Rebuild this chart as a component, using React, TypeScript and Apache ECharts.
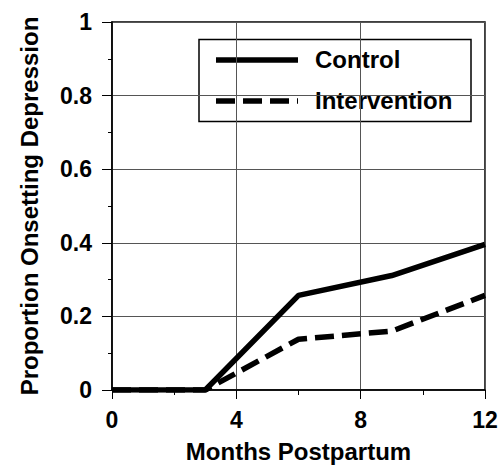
import React, { useEffect, useRef } from "react";
import * as echarts from "echarts";

const months = [0, 3, 6, 9, 12];
const control = [0, 0, 0.257, 0.311, 0.396];
const intervention = [0, 0, 0.138, 0.16, 0.257];
const seriesNames = ["Control", "Intervention"];
const xTitle = "Months Postpartum";
const yTitle = "Proportion Onsetting Depression";

const FONT = "'Liberation Sans', Arial, Helvetica, sans-serif";

export default function App() {
  const ref = useRef<HTMLDivElement>(null);
  useEffect(() => {
    if (!ref.current) return;
    const chart = echarts.init(ref.current, undefined, { renderer: "svg" });
    const pairs = (ys: number[]) => months.map((m, i) => [m, ys[i]]);
    chart.setOption({
      animation: false,
      backgroundColor: "#ffffff",
      grid: {
        left: 112,
        right: 17,
        top: 22,
        bottom: 74,
        show: true,
        borderColor: "#000",
        borderWidth: 1.5,
        backgroundColor: "transparent",
      },
      xAxis: {
        type: "value",
        min: 0,
        max: 12,
        interval: 4,
        name: xTitle,
        nameLocation: "middle",
        nameGap: 49,
        nameTextStyle: { fontFamily: FONT, fontWeight: "bold", fontSize: 24, color: "#000" },
        axisLine: { show: true, lineStyle: { color: "#000", width: 1.5 } },
        axisTick: { show: true, length: 9, lineStyle: { color: "#000", width: 1 } },
        minorTick: { show: true, splitNumber: 2, length: 5, lineStyle: { color: "#000", width: 1 } },
        axisLabel: { fontFamily: FONT, fontWeight: "bold", fontSize: 23, color: "#000", margin: 18 },
        splitLine: { show: true, lineStyle: { color: "#555", width: 1 } },
      },
      yAxis: {
        type: "value",
        min: 0,
        max: 1,
        interval: 0.2,
        name: yTitle,
        nameLocation: "middle",
        nameGap: 71,
        nameTextStyle: { fontFamily: FONT, fontWeight: "bold", fontSize: 24, color: "#000" },
        axisLine: { show: true, lineStyle: { color: "#000", width: 1.5 } },
        axisTick: { show: true, length: 10, lineStyle: { color: "#000", width: 1 } },
        minorTick: { show: true, splitNumber: 2, length: 4, lineStyle: { color: "#000", width: 1 } },
        axisLabel: { fontFamily: FONT, fontWeight: "bold", fontSize: 23, color: "#000", margin: 20 },
        splitLine: { show: true, lineStyle: { color: "#555", width: 1 } },
      },
      series: [
        {
          name: seriesNames[0],
          type: "line",
          data: pairs(control),
          symbol: "none",
          lineStyle: { color: "#000", width: 5.5 },
          z: 3,
        },
        {
          name: seriesNames[1],
          type: "line",
          data: pairs(intervention),
          symbol: "none",
          lineStyle: { color: "#000", width: 5.5, type: [19, 8] },
          z: 3,
        },
      ],
      graphic: [
        {
          type: "group",
          z: 100,
          children: [
            {
              type: "rect",
              shape: { x: 199, y: 39.5, width: 272, height: 82 },
              style: { fill: "#fff", stroke: "#000", lineWidth: 1.5 },
            },
            {
              type: "line",
              shape: { x1: 216, y1: 60, x2: 298, y2: 60 },
              style: { stroke: "#000", lineWidth: 5.5 },
            },
            {
              type: "line",
              shape: { x1: 216, y1: 101, x2: 298, y2: 101 },
              style: { stroke: "#000", lineWidth: 5.5, lineDash: [19, 8] },
            },
            {
              type: "text",
              x: 315,
              y: 59,
              style: {
                text: seriesNames[0],
                fontFamily: FONT,
                fontWeight: "bold",
                fontSize: 24,
                fill: "#000",
                verticalAlign: "middle",
                align: "left",
              },
            },
            {
              type: "text",
              x: 315,
              y: 100,
              style: {
                text: seriesNames[1],
                fontFamily: FONT,
                fontWeight: "bold",
                fontSize: 24,
                fill: "#000",
                verticalAlign: "middle",
                align: "left",
              },
            },
          ],
        },
      ],
    });
    return () => chart.dispose();
  }, []);
  return <div ref={ref} style={{ width: 502, height: 468, position: "absolute", left: 0, top: 0 }} />;
}
